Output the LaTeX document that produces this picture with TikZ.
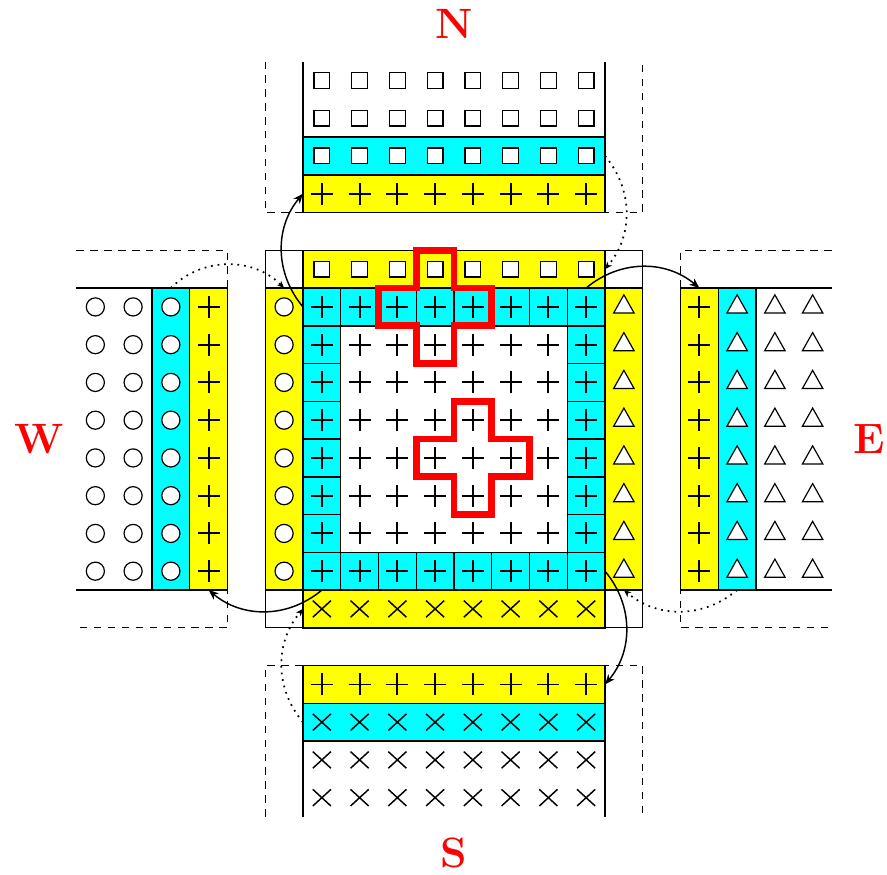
\documentclass[tikz,border=0pt]{standalone}
\usetikzlibrary{arrows.meta}
\definecolor{cy}{RGB}{0,255,255}
\definecolor{ye}{RGB}{255,255,0}
\begin{document}
\begin{tikzpicture}[
  blk/.style={line width=1.1pt},
  thinbox/.style={line width=0.5pt},
  dsh/.style={line width=0.75pt, dash pattern=on 5.5pt off 5pt},
  sym/.style={line width=0.9pt},
  psym/.style={line width=1.4pt},
  xsym/.style={line width=1.1pt},
  lbl/.style={text=red, inner sep=0pt, font=\fontsize{32}{36}\selectfont\bfseries},
  arr/.style={line width=1.1pt, -{Stealth[length=7.5pt,width=6pt,inset=2.2pt]}},
  dotarr/.style={line width=1.3pt, dash pattern=on 1.3pt off 3.7pt, -{Stealth[length=5.5pt,width=4.5pt,inset=1.6pt,line width=0.6pt]}},
  redx/.style={draw=red, line width=5pt, line join=miter},
  pl/.pic={\draw[psym] (-0.29,0)--(0.29,0) (0,-0.29)--(0,0.29);},
  tm/.pic={\draw[xsym] (-0.24,-0.22)--(0.24,0.22) (-0.24,0.22)--(0.24,-0.22);},
  sq/.pic={\draw[sym,fill=white] (-0.21,-0.21) rectangle (0.21,0.21);},
  ci/.pic={\draw[sym,fill=white] (0,0) circle (0.24);},
  tr/.pic={\draw[sym,fill=white] (-0.27,-0.16)--(0.27,-0.16)--(0,0.32)--cycle;},
]
\useasboundingbox (-8.026,-7.523) rectangle (15.47,15.63);

% ---------- North block ----------
\draw[dsh] (-1,14)--(-1,10)--(9,10)--(9,14);
\draw[blk] (0,14)--(0,10) (8,14)--(8,10);
\draw[blk,fill=cy] (0,11) rectangle (8,12);
\draw[blk,fill=ye] (0,10) rectangle (8,11);
\foreach \i in {0,...,7} {
  \pic at (\i+.5,13.5) {sq}; \pic at (\i+.5,12.5) {sq};
  \pic at (\i+.5,11.5) {sq}; \pic at (\i+.5,10.5) {pl};
}

% ---------- West block ----------
\draw[dsh] (-6,9)--(-2,9)--(-2,-1)--(-6,-1);
\draw[blk] (-6,8)--(-4,8) (-6,0)--(-4,0);
\draw[blk,fill=cy] (-4,0) rectangle (-3,8);
\draw[blk,fill=ye] (-3,0) rectangle (-2,8);
\foreach \j in {0,...,7} {
  \pic at (-5.5,\j+.5) {ci}; \pic at (-4.5,\j+.5) {ci};
  \pic at (-3.5,\j+.5) {ci}; \pic at (-2.5,\j+.5) {pl};
}

% ---------- East block ----------
\draw[dsh] (14,9)--(10,9)--(10,-1)--(14,-1);
\draw[blk] (12,8)--(14,8) (12,0)--(14,0);
\draw[blk,fill=ye] (10,0) rectangle (11,8);
\draw[blk,fill=cy] (11,0) rectangle (12,8);
\foreach \j in {0,...,7} {
  \pic at (10.5,\j+.5) {pl}; \pic at (11.5,\j+.5) {tr};
  \pic at (12.5,\j+.5) {tr}; \pic at (13.5,\j+.5) {tr};
}

% ---------- South block ----------
\draw[dsh] (-1,-6)--(-1,-2)--(9,-2)--(9,-6);
\draw[blk] (0,-6)--(0,-2) (8,-6)--(8,-2);
\draw[blk,fill=ye] (0,-3) rectangle (8,-2);
\draw[blk,fill=cy] (0,-4) rectangle (8,-3);
\foreach \i in {0,...,7} {
  \pic at (\i+.5,-2.5) {pl}; \pic at (\i+.5,-3.5) {tm};
  \pic at (\i+.5,-4.5) {tm}; \pic at (\i+.5,-5.5) {tm};
}

% ---------- Central block ----------
\draw[thinbox] (-1,-1) rectangle (9,9);
\draw[blk,fill=ye] (0,8) rectangle (8,9);
\draw[blk,fill=ye] (0,-1) rectangle (8,0);
\draw[blk,fill=ye] (-1,0) rectangle (0,8);
\draw[blk,fill=ye] (8,0) rectangle (9,8);
\foreach \i in {0,...,7} {
  \draw[blk,fill=cy] (\i,7) rectangle ++(1,1);
  \draw[blk,fill=cy] (\i,0) rectangle ++(1,1);
}
\foreach \j in {1,...,6} {
  \draw[blk,fill=cy] (0,\j) rectangle ++(1,1);
  \draw[blk,fill=cy] (7,\j) rectangle ++(1,1);
}
\foreach \i in {0,...,7} {
  \foreach \j in {0,...,7} { \pic at (\i+.5,\j+.5) {pl}; }
  \pic at (\i+.5,8.5) {sq};
  \pic at (\i+.5,-0.5) {tm};
  \pic at (-0.5,\i+.5) {ci};
  \pic at (8.5,\i+.5) {tr};
}

% ---------- Red stencils ----------
\draw[redx] (3,9)--(4,9)--(4,8)--(5,8)--(5,7)--(4,7)--(4,6)--(3,6)--(3,7)--(2,7)--(2,8)--(3,8)--cycle;
\draw[redx] (4,5)--(5,5)--(5,4)--(6,4)--(6,3)--(5,3)--(5,2)--(4,2)--(4,3)--(3,3)--(3,4)--(4,4)--cycle;

% ---------- Connector end points ----------
\coordinate (cTL) at (0,7.5);   \coordinate (nY) at (0,10.5);
\coordinate (wC) at (-3.5,8);   \coordinate (gL) at (-0.5,8);
\coordinate (nC) at (8,11.5);   \coordinate (gT) at (8,8.5);
\coordinate (cTR) at (7.5,8);   \coordinate (eY) at (10.5,8);
\coordinate (cBL) at (0.5,0);   \coordinate (wY) at (-2.5,0);
\coordinate (sC) at (0,-3.5);   \coordinate (gB) at (0,-0.5);
\coordinate (cBR) at (8,0.5);   \coordinate (sY) at (8,-2.5);
\coordinate (eC) at (11.5,0);   \coordinate (gR) at (8.5,0);

\draw[arr] (cTL) to[bend left=40] (nY);
\draw[dotarr] (wC) to[bend left=45] (gL);
\draw[dotarr] (nC) to[bend left=40] (gT);
\draw[arr] (cTR) to[bend left=40] (eY);
\draw[arr] (cBL) to[bend left=40] (wY);
\draw[dotarr] (sC) to[bend left=40] (gB);
\draw[arr] (cBR) to[bend left=40] (sY);
\draw[dotarr] (eC) to[bend left=40] (gR);

% ---------- Labels ----------
\node[lbl] (N) at (4,15) {N};
\node[lbl] (S) at (4,-6.97) {S};
\node[lbl] (W) at (-7,4) {W};
\node[lbl] (E) at (15,4) {E};
\end{tikzpicture}
\end{document}
